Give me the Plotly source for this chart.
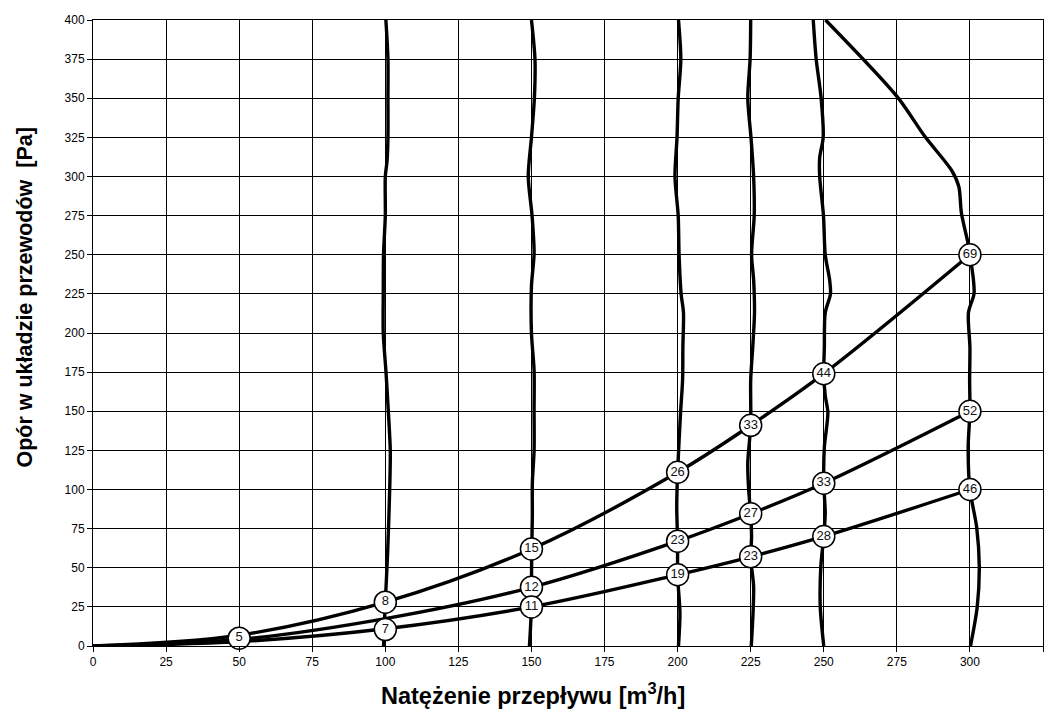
import plotly.graph_objects as go

# ---- system resistance curves (flow m3/h -> pressure Pa) ----
flow_nodes = [0, 50, 100, 150, 200, 225, 250, 300]
curve_high = [0, 6.9, 28, 62, 111, 141, 174, 250]
curve_mid = [0, 4.2, 17.5, 37.5, 67, 84.5, 104, 150]
curve_low = [0, 2.8, 11, 25, 45.5, 57, 70, 100]

# ---- circled labels on the curves ----
high_lbl_x = [100, 150, 200, 225, 250, 300]
high_lbl_y = [28, 62, 111, 141, 174, 250]
high_lbl = ["8", "15", "26", "33", "44", "69"]

mid_lbl_x = [150, 200, 225, 250, 300]
mid_lbl_y = [37.5, 67, 84.5, 104, 150]
mid_lbl = ["12", "23", "27", "33", "52"]

low_lbl_x = [50, 100, 150, 200, 225, 250, 300]
low_lbl_y = [5, 10.5, 25, 45.5, 57, 70, 100]
low_lbl = ["5", "7", "11", "19", "23", "28", "46"]

# ---- fan curves (near vertical) ----
fan100_p = [0, 10, 28, 60, 100, 125, 151, 176, 200, 225, 251, 275, 300, 310, 325, 350, 375, 400]
fan100_q = [99.4, 99.6, 100.0, 100.8, 101.5, 101.7, 101.0, 100.2, 99.3, 99.3, 99.4, 100.0, 100.0, 100.6, 100.9, 100.9, 100.9, 100.2]

fan150_p = [0, 6, 25, 37, 62, 83, 104, 125, 151, 176, 200, 230, 251, 275, 300, 325, 350, 375, 400]
fan150_q = [149.3, 149.5, 150.0, 150.0, 150.1, 150.3, 150.3, 150.9, 150.9, 150.9, 150.0, 150.0, 150.9, 150.2, 148.9, 150.0, 151.0, 151.2, 150.0]

fan200_p = [0, 21, 45, 66, 89, 111, 149, 170, 191, 213, 225, 250, 275, 300, 325, 350, 375, 400]
fan200_q = [200.3, 200.8, 200.0, 200.0, 199.7, 200.0, 201.0, 201.7, 201.8, 202.0, 201.2, 200.5, 200.2, 199.1, 199.8, 200.2, 201.1, 200.3]

fan225_p = [0, 38, 56, 70, 84, 100, 117, 141, 170, 191, 213, 234, 250, 275, 300, 325, 350, 375, 400]
fan225_q = [225.2, 226.0, 225.0, 225.3, 225.0, 224.3, 224.0, 225.0, 225.0, 225.7, 226.3, 226.0, 225.3, 226.2, 226.0, 225.1, 224.0, 224.8, 225.0]

fan250_p = [0, 25, 51, 70, 85, 104, 127, 149, 160, 174, 191, 213, 225, 234, 250, 275, 300, 312, 325, 350, 375, 400]
fan250_q = [250.0, 248.8, 249.0, 250.0, 250.5, 250.0, 250.2, 251.4, 250.5, 250.0, 250.2, 250.5, 252.3, 252.0, 250.5, 249.9, 248.6, 248.6, 249.8, 249.1, 247.4, 246.4]

fan300_p = [400, 351, 325.5, 304, 293.5, 276.5, 257, 250, 234, 225, 213, 191, 170, 150, 127, 100, 76, 51, 25, 0]
fan300_q = [250.6, 275.1, 284.6, 293.7, 296.2, 297.1, 299.4, 300.0, 301.2, 301.4, 299.5, 300.0, 299.9, 300.0, 299.4, 300.0, 302.3, 303.2, 302.5, 300.2]

x_ticks = [0, 25, 50, 75, 100, 125, 150, 175, 200, 225, 250, 275, 300, 325]
y_ticks = [0, 25, 50, 75, 100, 125, 150, 175, 200, 225, 250, 275, 300, 325, 350, 375, 400]

FONT = "Arial, Liberation Sans, sans-serif"
LW = 3.4

fig = go.Figure()

for q, p in [(fan100_q, fan100_p), (fan150_q, fan150_p), (fan200_q, fan200_p),
             (fan225_q, fan225_p), (fan250_q, fan250_p), (fan300_q, fan300_p)]:
    fig.add_trace(go.Scatter(x=q, y=p, mode="lines",
                             line=dict(color="black", width=LW, shape="spline", smoothing=0.8),
                             hoverinfo="skip", showlegend=False))

for c in [curve_high, curve_mid, curve_low]:
    fig.add_trace(go.Scatter(x=flow_nodes, y=c, mode="lines",
                             line=dict(color="black", width=LW, shape="spline", smoothing=1.0),
                             hoverinfo="skip", showlegend=False))

for lx, ly, lt in [(high_lbl_x, high_lbl_y, high_lbl), (mid_lbl_x, mid_lbl_y, mid_lbl),
                   (low_lbl_x, low_lbl_y, low_lbl)]:
    fig.add_trace(go.Scatter(x=lx, y=ly, mode="markers+text", text=lt,
                             textposition="middle center",
                             textfont=dict(family=FONT, size=13, color="#111"),
                             marker=dict(size=22, color="white", line=dict(color="black", width=1.5)),
                             hoverinfo="skip", showlegend=False, cliponaxis=False))

axis_common = dict(showgrid=True, gridcolor="black", gridwidth=1,
                   showline=True, linecolor="black", linewidth=1, mirror=True,
                   ticks="outside", ticklen=5, tickcolor="black", tickwidth=1,
                   tickfont=dict(family=FONT, size=12, color="black"),
                   zeroline=False)

fig.update_xaxes(range=[0, 325], tickvals=x_ticks, **axis_common)
fig.update_yaxes(range=[0, 400], tickvals=y_ticks, **axis_common)

fig.update_layout(
    width=1053, height=711,
    margin=dict(l=93, r=10, t=20, b=65),
    plot_bgcolor="white", paper_bgcolor="white",
    font=dict(family=FONT, color="black"),
    annotations=[
        dict(text="<b>Natężenie przepływu [m<sup>3</sup>/h]</b>", xref="paper", yref="paper",
             x=0.463, y=-0.076, xanchor="center", yanchor="middle", showarrow=False,
             font=dict(family=FONT, size=23.5, color="black")),
        dict(text="<b>Opór w układzie przewodów  [Pa]</b>", xref="paper", yref="paper",
             x=-0.072, y=0.556, xanchor="center", yanchor="middle", textangle=-90, showarrow=False,
             font=dict(family=FONT, size=21.5, color="black")),
    ],
)

fig.write_html("out.html", config={"displayModeBar": False},
               post_script="document.body.style.margin='0';document.body.style.overflow='hidden';")
